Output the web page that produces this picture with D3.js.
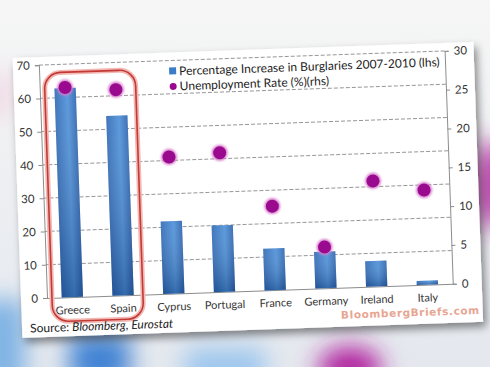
<!DOCTYPE html>
<html>
<head>
<meta charset="utf-8">
<script src="https://cdn.jsdelivr.net/npm/d3@7"></script>
<style>
  body { margin: 0; background: #eef0f2; }
  svg { display: block; }
</style>
</head>
<body>
<div id="chart"></div>
<script>
var width = 490;
var height = 367;

var countries = ["Greece", "Spain", "Cyprus", "Portugal", "France", "Germany", "Ireland", "Italy"];
var burglaries = [62.8, 54, 21.8, 20, 12.5, 11, 7.7, 1.2];
var unemployment = [27, 26.5, 17.6, 17.9, 10.8, 5.3, 13.6, 12.2];
var leftTicks = [0, 10, 20, 30, 40, 50, 60, 70];
var rightTicks = [0, 5, 10, 15, 20, 25, 30];

var plotLeft = 43, plotRight = 449, plotTop = 58, plotBottom = 291;

var svg = d3.select("#chart").append("svg")
  .attr("width", width)
  .attr("height", height);

var defs = svg.append("defs");

var blur = defs.append("filter").attr("id", "blur")
  .attr("x", "-50%").attr("y", "-50%").attr("width", "200%").attr("height", "200%");
blur.append("feGaussianBlur").attr("stdDeviation", 12);

var shadow = defs.append("filter").attr("id", "shadow")
  .attr("x", "-10%").attr("y", "-10%").attr("width", "120%").attr("height", "130%");
shadow.append("feDropShadow")
  .attr("dx", 3).attr("dy", 5).attr("stdDeviation", 4)
  .attr("flood-color", "#000").attr("flood-opacity", 0.45);

var glow = defs.append("filter").attr("id", "glow")
  .attr("x", "-20%").attr("y", "-20%").attr("width", "140%").attr("height", "140%");
glow.append("feGaussianBlur").attr("stdDeviation", 1.2);

var barGrad = defs.append("linearGradient").attr("id", "barGrad")
  .attr("x1", 0).attr("y1", 0).attr("x2", 1).attr("y2", 0);
barGrad.append("stop").attr("offset", "0%").attr("stop-color", "#2c67b4");
barGrad.append("stop").attr("offset", "60%").attr("stop-color", "#4a8fd8");
barGrad.append("stop").attr("offset", "100%").attr("stop-color", "#2a62ae");

var barShade = defs.append("linearGradient").attr("id", "barShade")
  .attr("x1", 0).attr("y1", 0).attr("x2", 0).attr("y2", 1);
barShade.append("stop").attr("offset", "0%").attr("stop-color", "#ffffff").attr("stop-opacity", 0.1);
barShade.append("stop").attr("offset", "100%").attr("stop-color", "#0b2a5c").attr("stop-opacity", 0.35);

// blurred background
var bgGrad = defs.append("linearGradient").attr("id", "bgGrad")
  .attr("x1", 0).attr("y1", 0).attr("x2", 0).attr("y2", 1);
bgGrad.append("stop").attr("offset", "0%").attr("stop-color", "#f6f6f6");
bgGrad.append("stop").attr("offset", "100%").attr("stop-color", "#e4e8ee");
svg.append("rect").attr("width", width).attr("height", height).attr("fill", "url(#bgGrad)");

var blobs = svg.append("g").attr("filter", "url(#blur)");
blobs.append("rect").attr("x", -20).attr("y", 300).attr("width", 45).attr("height", 90).attr("fill", "#7fb2e4");
blobs.append("rect").attr("x", 70).attr("y", 335).attr("width", 60).attr("height", 50).attr("fill", "#3f82d3");
blobs.append("rect").attr("x", 185).attr("y", 348).attr("width", 80).attr("height", 40).attr("fill", "#9cc6ee");
blobs.append("ellipse").attr("cx", 350).attr("cy", 368).attr("rx", 32).attr("ry", 22).attr("fill", "#b1229f");
blobs.append("ellipse").attr("cx", 492).attr("cy", 185).attr("rx", 16).attr("ry", 45).attr("fill", "#b52aa3");
blobs.append("ellipse").attr("cx", 0).attr("cy", 95).attr("rx", 12).attr("ry", 25).attr("fill", "#f1d6e3");

// tilted card
var card = svg.append("g").attr("transform", "rotate(-2, 245, 180)");

card.append("rect")
  .attr("x", 17).attr("y", 50)
  .attr("width", 461).attr("height", 280)
  .attr("fill", "#ffffff")
  .attr("filter", "url(#shadow)");

var x = d3.scaleBand()
  .domain(countries)
  .range([plotLeft, plotRight])
  .paddingInner(0.58)
  .paddingOuter(0.29);

var yLeft = d3.scaleLinear().domain([0, 70]).range([plotBottom, plotTop]);
var yRight = d3.scaleLinear().domain([0, 30]).range([plotBottom, plotTop]);

// gridlines
card.append("g")
  .selectAll("line")
  .data(leftTicks.slice(1))
  .enter()
  .append("line")
  .attr("x1", plotLeft).attr("x2", plotRight)
  .attr("y1", function (d) { return yLeft(d); })
  .attr("y2", function (d) { return yLeft(d); })
  .attr("stroke", "#8c8c8c")
  .attr("stroke-width", 0.9)
  .attr("stroke-dasharray", "4,2");

// axes
var leftAxis = d3.axisLeft(yLeft).tickValues(leftTicks).tickSize(4).tickPadding(5);
var rightAxis = d3.axisRight(yRight).tickValues(rightTicks).tickSize(4).tickPadding(5);
var bottomAxis = d3.axisBottom(x).tickSize(0).tickPadding(9);

function styleAxis(g) {
  g.select(".domain").attr("stroke", "#8c8c8c");
  g.selectAll(".tick line").attr("stroke", "#8c8c8c");
  g.selectAll("text")
    .attr("fill", "#333")
    .attr("font-family", "Lato, 'Open Sans', sans-serif")
    .attr("font-size", "11.5px");
}

card.append("g")
  .attr("transform", "translate(" + plotLeft + ",0)")
  .call(leftAxis)
  .call(styleAxis);

card.append("g")
  .attr("transform", "translate(" + plotRight + ",0)")
  .call(rightAxis)
  .call(styleAxis);

card.append("g")
  .attr("transform", "translate(0," + plotBottom + ")")
  .call(bottomAxis)
  .call(styleAxis)
  .call(function (g) { g.selectAll("text").attr("font-size", "11px"); });

// bars
var bars = card.append("g");
bars.selectAll("rect.bar")
  .data(countries)
  .enter()
  .append("rect")
  .attr("class", "bar")
  .attr("x", function (d) { return x(d); })
  .attr("y", function (d, i) { return yLeft(burglaries[i]); })
  .attr("width", x.bandwidth())
  .attr("height", function (d, i) { return plotBottom - yLeft(burglaries[i]); })
  .attr("fill", "url(#barGrad)");
bars.selectAll("rect.shade")
  .data(countries)
  .enter()
  .append("rect")
  .attr("class", "shade")
  .attr("x", function (d) { return x(d); })
  .attr("y", function (d, i) { return yLeft(burglaries[i]); })
  .attr("width", x.bandwidth())
  .attr("height", function (d, i) { return plotBottom - yLeft(burglaries[i]); })
  .attr("fill", "url(#barShade)");

// unemployment dots
var dots = card.append("g");
dots.selectAll("circle.halo")
  .data(countries)
  .enter()
  .append("circle")
  .attr("class", "halo")
  .attr("cx", function (d) { return x(d) + x.bandwidth() / 2; })
  .attr("cy", function (d, i) { return yRight(unemployment[i]); })
  .attr("r", 8)
  .attr("fill", "#d77ccd")
  .attr("filter", "url(#glow)");
dots.selectAll("circle.dot")
  .data(countries)
  .enter()
  .append("circle")
  .attr("class", "dot")
  .attr("cx", function (d) { return x(d) + x.bandwidth() / 2; })
  .attr("cy", function (d, i) { return yRight(unemployment[i]); })
  .attr("r", 6.5)
  .attr("fill", "#990a8e");

// highlight box round Greece and Spain
card.append("rect")
  .attr("x", 48).attr("y", 66)
  .attr("width", 91).attr("height", 249)
  .attr("rx", 16)
  .attr("fill", "none")
  .attr("stroke", "#f3b8b4")
  .attr("stroke-width", 5);
card.append("rect")
  .attr("x", 48).attr("y", 66)
  .attr("width", 91).attr("height", 249)
  .attr("rx", 16)
  .attr("fill", "none")
  .attr("stroke", "#c23a35")
  .attr("stroke-width", 1.6);

// legend
var legend = card.append("g")
  .attr("font-family", "Lato, 'Open Sans', sans-serif")
  .attr("font-size", "12px")
  .attr("fill", "#222");
legend.append("rect")
  .attr("x", 173).attr("y", 65).attr("width", 7).attr("height", 7)
  .attr("fill", "#3a7cc8");
legend.append("text").attr("x", 183).attr("y", 73)
  .text("Percentage Increase in Burglaries 2007-2010 (lhs)");
legend.append("circle")
  .attr("cx", 176.5).attr("cy", 84).attr("r", 3.5)
  .attr("fill", "#990a8e");
legend.append("text").attr("x", 183).attr("y", 88)
  .text("Unemployment Rate (%)(rhs)");

// source and brand
var source = card.append("text")
  .attr("x", 25).attr("y", 325)
  .attr("font-family", "Lato, 'Open Sans', sans-serif")
  .attr("font-size", "12px")
  .attr("fill", "#222");
source.append("tspan").text("Source: ");
source.append("tspan").attr("font-style", "italic").text("Bloomberg, Eurostat");

card.append("text")
  .attr("x", 475).attr("y", 322)
  .attr("text-anchor", "end")
  .attr("font-family", "'DejaVu Sans', sans-serif")
  .attr("font-weight", "bold")
  .attr("font-size", "10.5px")
  .attr("letter-spacing", "0.6px")
  .attr("fill", "#e8a592")
  .text("BloombergBriefs.com");
</script>
</body>
</html>
